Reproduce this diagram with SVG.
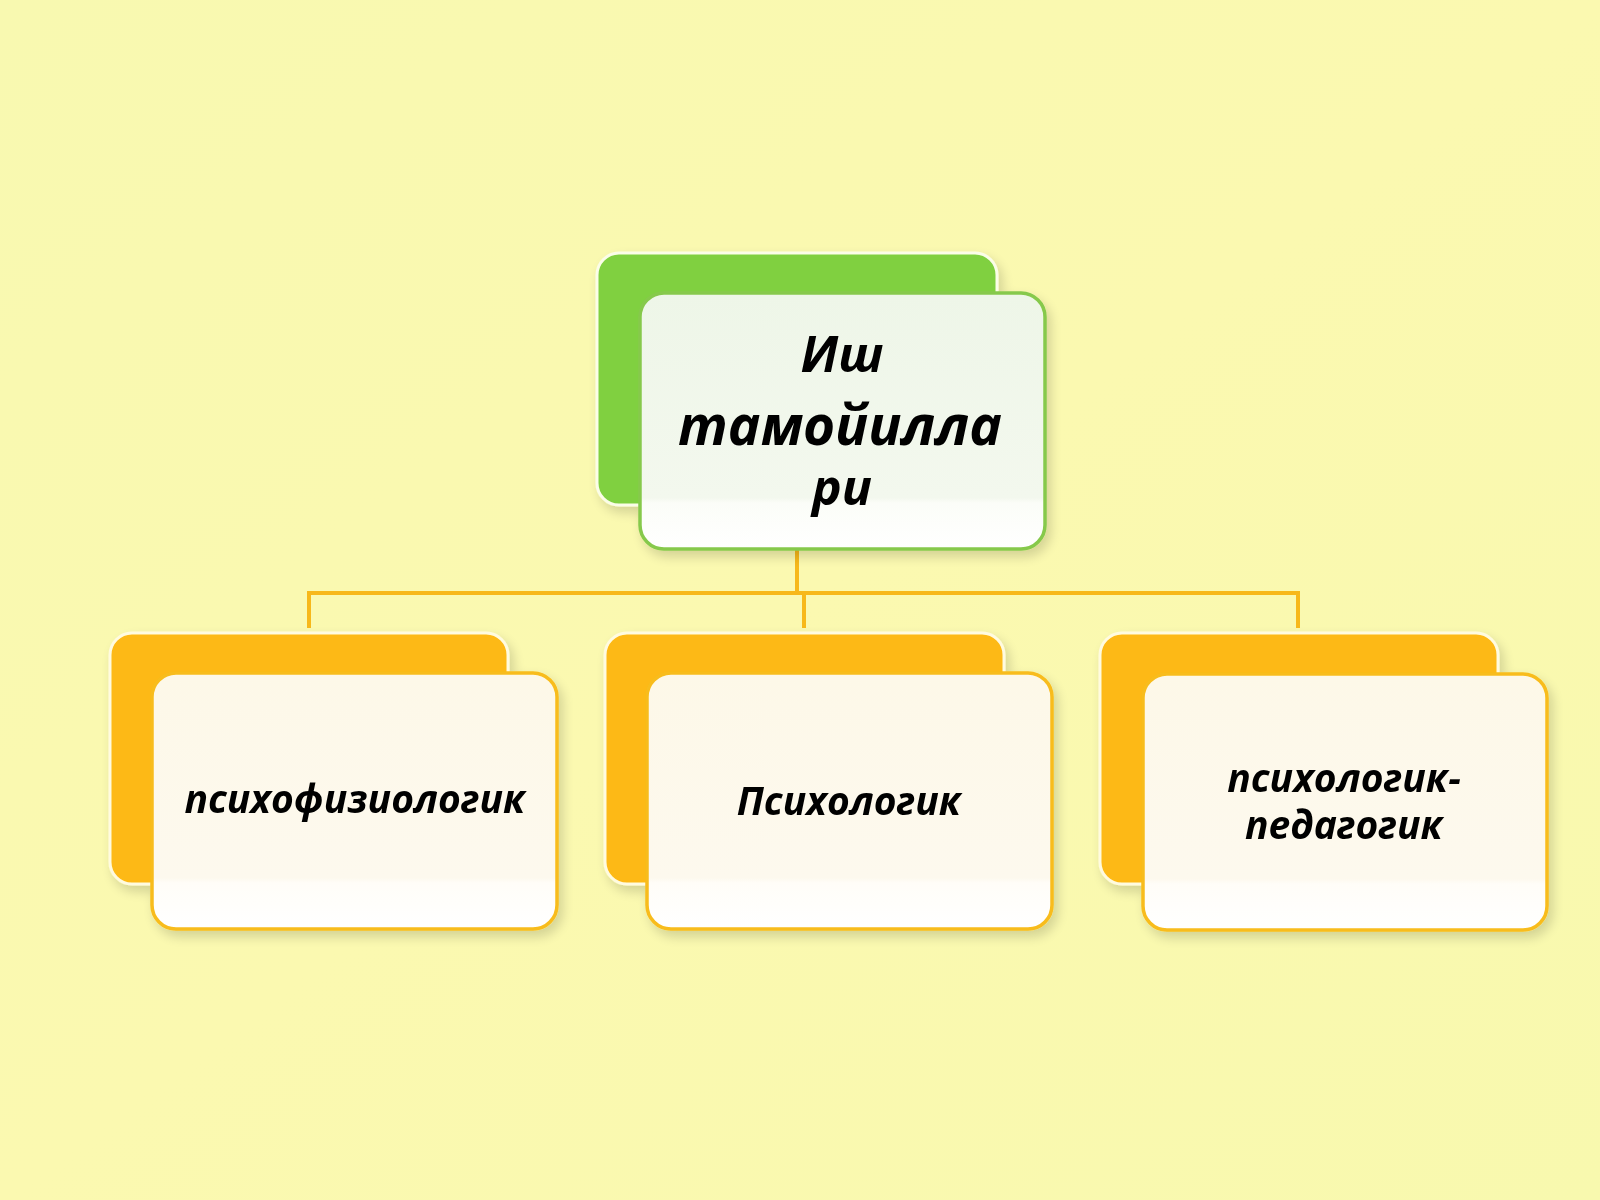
<svg xmlns="http://www.w3.org/2000/svg" width="1600" height="1200" viewBox="0 0 1600 1200">
  <defs>
    <linearGradient id="bg" x1="0" y1="0" x2="1" y2="1">
      <stop offset="0" stop-color="#f8f9b0"/>
      <stop offset="0.5" stop-color="#fbf9b0"/>
      <stop offset="1" stop-color="#f8f9ae"/>
    </linearGradient>
    <linearGradient id="frontO" x1="0" y1="0" x2="0" y2="1">
      <stop offset="0" stop-color="#fdf8e8"/>
      <stop offset="0.8" stop-color="#fdf9ee"/>
      <stop offset="0.82" stop-color="#fffdf8"/>
      <stop offset="1" stop-color="#ffffff"/>
    </linearGradient>
    <linearGradient id="frontG" x1="0" y1="0" x2="0" y2="1">
      <stop offset="0" stop-color="#eef6e8"/>
      <stop offset="0.8" stop-color="#f3f8ee"/>
      <stop offset="0.82" stop-color="#fbfdf8"/>
      <stop offset="1" stop-color="#ffffff"/>
    </linearGradient>
    <filter id="sh" x="-10%" y="-10%" width="125%" height="130%">
      <feGaussianBlur in="SourceAlpha" stdDeviation="6"/>
      <feOffset dx="4" dy="6" result="b"/>
      <feComponentTransfer><feFuncA type="linear" slope="0.16"/></feComponentTransfer>
      <feMerge><feMergeNode/><feMergeNode in="SourceGraphic"/></feMerge>
    </filter>
  </defs>
  <style>
    .backO { fill: #fdb913; stroke: #fffbe0; stroke-width: 3; }
    .backG { fill: #80d040; stroke: #fbfde8; stroke-width: 3; }
    .frontO { fill: url(#frontO); stroke: #f8bc1c; stroke-width: 3.5; }
    .frontG { fill: url(#frontG); stroke: #86c94c; stroke-width: 3.5; }
    .conn { fill: none; stroke: #f7b81a; stroke-width: 4; }
    .t { font-family: "Open Sans", "Noto Sans", "DejaVu Sans", sans-serif; font-weight: bold; font-style: italic; fill: #000000; text-anchor: middle; }
    .s { font-size: 39px; }
  </style>
  <rect x="0" y="0" width="1600" height="1200" fill="url(#bg)"/>

  <g id="connectors">
    <path class="conn" d="M797 550 V593"/>
    <path class="conn" d="M309 628 V593 H1298 V628"/>
    <path class="conn" d="M804 593 V628"/>
  </g>

  <g id="node-top" filter="url(#sh)">
    <rect class="backG" x="597" y="253" width="400" height="252" rx="22"/>
    <rect class="frontG" x="640" y="293" width="405" height="256" rx="24"/>
    <text class="t"><tspan x="842" y="372" font-size="50">Иш</tspan><tspan x="840" y="445" font-size="55">тамойилла</tspan><tspan x="842" y="505" font-size="50">ри</tspan></text>
  </g>

  <g id="node-left" filter="url(#sh)">
    <rect class="backO" x="110" y="633" width="398" height="251" rx="22"/>
    <rect class="frontO" x="152" y="673" width="405" height="256" rx="24"/>
    <text class="t s" x="355" y="813">психофизиологик</text>
  </g>

  <g id="node-middle" filter="url(#sh)">
    <rect class="backO" x="605" y="633" width="399" height="251" rx="22"/>
    <rect class="frontO" x="647" y="673" width="405" height="256" rx="24"/>
    <text class="t s" x="849" y="815">Психологик</text>
  </g>

  <g id="node-right" filter="url(#sh)">
    <rect class="backO" x="1100" y="633" width="398" height="251" rx="22"/>
    <rect class="frontO" x="1143" y="674" width="404" height="256" rx="24"/>
    <text class="t s"><tspan x="1344" y="792">психологик-</tspan><tspan x="1344" y="839">педагогик</tspan></text>
  </g>
</svg>
